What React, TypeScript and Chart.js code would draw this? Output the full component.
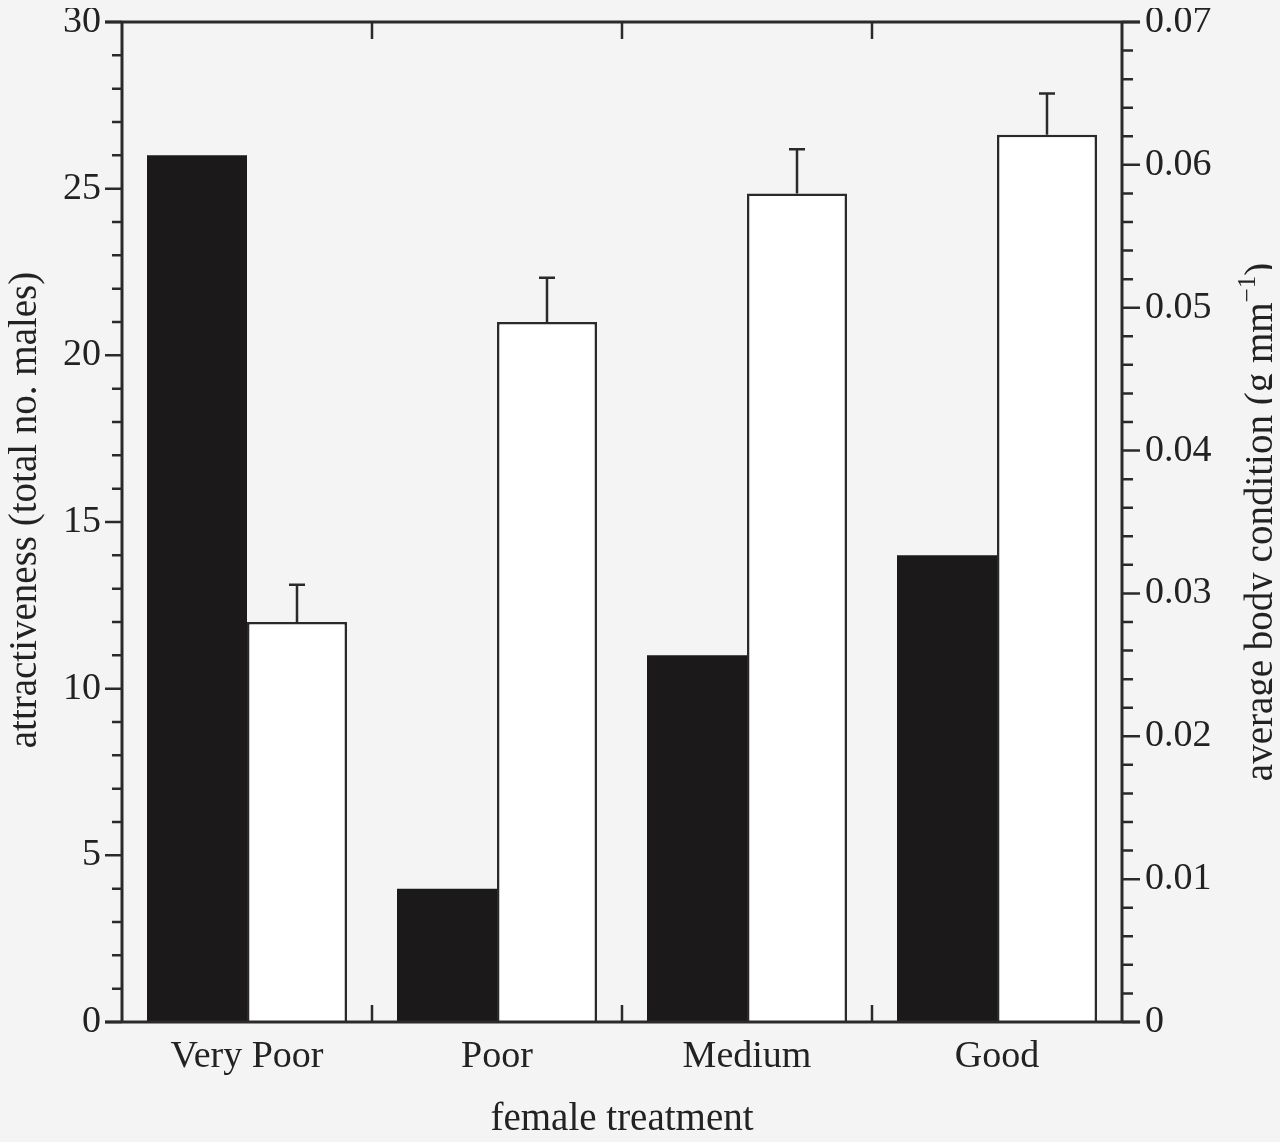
import React, { useEffect, useRef } from "react";
import { Chart, registerables } from "chart.js";
Chart.register(...registerables);

const categories = ["Very Poor", "Poor", "Medium", "Good"];
const attractiveness = [26, 4, 11, 14];
const bodyCondition = [0.028, 0.049, 0.058, 0.0621];
const bodyConditionUpper = [0.0306, 0.0521, 0.0611, 0.065];
const leftTicks = [0, 5, 10, 15, 20, 25, 30];
const rightTicks = [0, 0.01, 0.02, 0.03, 0.04, 0.05, 0.06, 0.07];

const INK = "#2a2a2a";
const FONT = "'Liberation Serif', 'DejaVu Serif', serif";

const axesPlugin = {
  id: "customAxes",
  afterDatasetsDraw(chart: any) {
    const { ctx, chartArea: a, scales } = chart;
    const y = scales.y, y2 = scales.y2, x = scales.x;
    ctx.save();
    const meta = chart.getDatasetMeta(1);
    ctx.strokeStyle = INK;
    ctx.lineWidth = 2.5;
    meta.data.forEach((bar: any, i: number) => {
      const top = y2.getPixelForValue(bodyConditionUpper[i]);
      const base = y2.getPixelForValue(bodyCondition[i]);
      ctx.beginPath();
      ctx.moveTo(bar.x, base);
      ctx.lineTo(bar.x, top);
      ctx.moveTo(bar.x - 8, top);
      ctx.lineTo(bar.x + 8, top);
      ctx.stroke();
    });
    ctx.lineWidth = 3;
    ctx.beginPath();
    ctx.moveTo(a.left, a.top); ctx.lineTo(a.left, a.bottom);
    ctx.moveTo(a.right, a.top); ctx.lineTo(a.right, a.bottom);
    ctx.moveTo(a.left - 17, a.top); ctx.lineTo(a.right + 18, a.top);
    ctx.moveTo(a.left - 17, a.bottom); ctx.lineTo(a.right + 18, a.bottom);
    ctx.stroke();
    ctx.lineWidth = 2.5;
    ctx.beginPath();
    for (let v = 0; v <= 30; v++) {
      const p = y.getPixelForValue(v);
      const len = v % 5 === 0 ? 17 : 10;
      ctx.moveTo(a.left - len, p); ctx.lineTo(a.left, p);
    }
    for (let k = 0; k <= 35; k++) {
      const p = y2.getPixelForValue(k * 0.002);
      const len = k % 5 === 0 ? 18 : 11;
      ctx.moveTo(a.right, p); ctx.lineTo(a.right + len, p);
    }
    for (let i = 1; i < categories.length; i++) {
      const px = (x.getPixelForValue(i - 1) + x.getPixelForValue(i)) / 2;
      ctx.moveTo(px, a.bottom); ctx.lineTo(px, a.bottom - 17);
      ctx.moveTo(px, a.top); ctx.lineTo(px, a.top + 17);
    }
    ctx.stroke();
    ctx.fillStyle = "#222";
    ctx.font = `38px ${FONT}`;
    ctx.textBaseline = "middle";
    ctx.textAlign = "right";
    leftTicks.forEach((v) => ctx.fillText(String(v), a.left - 21, y.getPixelForValue(v)));
    ctx.textAlign = "left";
    rightTicks.forEach((v) =>
      ctx.fillText(v === 0 ? "0" : v.toFixed(2), a.right + 23, y2.getPixelForValue(v))
    );
    ctx.textAlign = "center";
    categories.forEach((c, i) => ctx.fillText(c, x.getPixelForValue(i), a.bottom + 35));
    ctx.font = `39px ${FONT}`;
    ctx.fillText("female treatment", (a.left + a.right) / 2, a.bottom + 98);
    ctx.save();
    ctx.translate(a.left - 96, (a.top + a.bottom) / 2 - 12);
    ctx.rotate(-Math.PI / 2);
    ctx.fillText("attractiveness (total no. males)", 0, 0);
    ctx.restore();
    ctx.save();
    ctx.translate(a.right + 140, (a.top + a.bottom) / 2);
    ctx.rotate(-Math.PI / 2);
    const main = "average body condition (g mm";
    const sup = "\u22121";
    const close = ")";
    ctx.font = `39px ${FONT}`;
    const w1 = ctx.measureText(main).width;
    const w3 = ctx.measureText(close).width;
    ctx.font = `25px ${FONT}`;
    const w2 = ctx.measureText(sup).width;
    const total = w1 + w2 + w3;
    ctx.textAlign = "left";
    let sx = -total / 2;
    ctx.font = `39px ${FONT}`;
    ctx.fillText(main, sx, 0);
    sx += w1;
    ctx.font = `25px ${FONT}`;
    ctx.fillText(sup, sx, -14);
    sx += w2;
    ctx.font = `39px ${FONT}`;
    ctx.fillText(close, sx, 0);
    ctx.restore();
    ctx.restore();
  },
};

export default function App() {
  const ref = useRef<HTMLCanvasElement>(null);
  useEffect(() => {
    document.body.style.background = "#f4f4f4";
    const chart = new Chart(ref.current!, {
      type: "bar",
      data: {
        labels: categories,
        datasets: [
          {
            data: attractiveness,
            yAxisID: "y",
            backgroundColor: "#1c191a",
            borderWidth: 0,
            categoryPercentage: 0.8,
            barPercentage: 1,
          },
          {
            data: bodyCondition,
            yAxisID: "y2",
            backgroundColor: "#ffffff",
            borderColor: INK,
            borderWidth: 2.5,
            categoryPercentage: 0.8,
            barPercentage: 1,
          },
        ],
      },
      options: {
        animation: false,
        responsive: false,
        layout: { padding: { left: 114, right: 150, top: 14, bottom: 120 } },
        plugins: { legend: { display: false }, tooltip: { enabled: false } },
        scales: {
          x: { display: false },
          y: { display: false, min: 0, max: 30 },
          y2: { display: false, min: 0, max: 0.07, position: "right" },
        },
      },
      plugins: [axesPlugin],
    });
    return () => chart.destroy();
  }, []);
  return <canvas ref={ref} width={1264} height={1134} style={{ display: "block" }} />;
}
